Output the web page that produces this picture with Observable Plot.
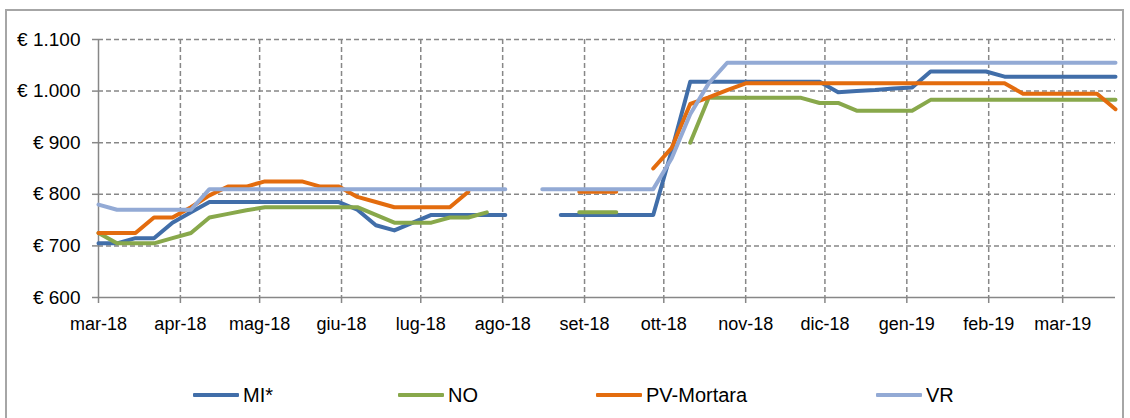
<!DOCTYPE html>
<html><head><meta charset="utf-8">
<script src="https://cdn.jsdelivr.net/npm/d3@7"></script>
<script src="https://cdn.jsdelivr.net/npm/@observablehq/plot@0.6"></script>
<style>
body{margin:0;background:#fff;font-family:"Liberation Sans",Arial,sans-serif;width:1130px;height:418px;overflow:hidden;position:relative;}
#frame{position:absolute;left:5px;top:9px;width:1119px;height:440px;border:2px solid #a6a6a6;box-sizing:border-box;}
#chart{position:absolute;left:0;top:0;}
#legend{position:absolute;top:382px;left:0;width:1130px;height:26px;font-size:20px;color:#000;}
.item{position:absolute;top:0;display:flex;align-items:center;height:26px;}
.sw{width:46px;height:4px;margin-right:4px;border-radius:1px;}
</style></head><body>
<div id="frame"></div>
<div id="chart"></div>
<div id="legend"></div>
<script>
// weekly observation dates
const dates = [
"2018-03-01","2018-03-08","2018-03-15","2018-03-22","2018-03-29",
"2018-04-05","2018-04-12","2018-04-19","2018-04-26",
"2018-05-03","2018-05-10","2018-05-17","2018-05-24","2018-05-31",
"2018-06-07","2018-06-14","2018-06-21","2018-06-28",
"2018-07-05","2018-07-12","2018-07-19","2018-07-26",
"2018-08-02","2018-08-09","2018-08-16","2018-08-23","2018-08-30",
"2018-09-06","2018-09-13","2018-09-20","2018-09-27",
"2018-10-04","2018-10-11","2018-10-18","2018-10-25",
"2018-11-01","2018-11-08","2018-11-15","2018-11-22","2018-11-29",
"2018-12-06","2018-12-13","2018-12-20","2018-12-27",
"2019-01-03","2019-01-10","2019-01-17","2019-01-24","2019-01-31",
"2019-02-07","2019-02-14","2019-02-21","2019-02-28",
"2019-03-07","2019-03-14","2019-03-21"];

const seriesNames = ["MI*","NO","PV-Mortara","VR"];
const seriesColors = ["#416EA9","#88A84B","#E36C0E","#93AAD5"];

const MI = [705,705,715,715,745,765,785,785,785,785,785,785,785,785,770,740,730,745,760,760,760,760,760,null,null,760,760,760,760,760,760,885,1018,1018,1018,1018,1018,1018,1018,1018,998,1000,1002,1005,1007,1038,1038,1038,1038,1028,1028,1028,1028,1028,1028,1028];
const NO = [725,705,705,705,715,725,755,762,769,775,775,775,775,775,775,760,745,745,745,755,755,765,null,null,null,null,765,765,765,null,null,null,900,987,987,987,987,987,987,977,977,962,962,962,962,983,983,983,983,983,983,983,983,983,983,983];
const PV = [725,725,725,755,755,775,798,815,815,825,825,825,815,815,795,785,775,775,775,775,805,null,null,null,null,null,805,805,805,null,850,890,975,988,1002,1015,1015,1015,1015,1015,1015,1015,1015,1015,1015,1015,1015,1015,1015,1015,995,995,995,995,995,965];
const VR = [780,770,770,770,770,770,810,810,810,810,810,810,810,810,810,810,810,810,810,810,810,810,810,null,810,810,810,810,810,810,810,870,955,1015,1055,1055,1055,1055,1055,1055,1055,1055,1055,1055,1055,1055,1055,1055,1055,1055,1055,1055,1055,1055,1055,1055];

const yTicks = [600,700,800,900,1000,1100];
const monthTicks = ["2018-03-01","2018-04-01","2018-05-01","2018-06-01","2018-07-01","2018-08-01","2018-09-01","2018-10-01","2018-11-01","2018-12-01","2019-01-01","2019-02-01","2019-03-01"];
const monthLabels = ["mar-18","apr-18","mag-18","giu-18","lug-18","ago-18","set-18","ott-18","nov-18","dic-18","gen-19","feb-19","mar-19"];

const values = [MI, NO, PV, VR];
const parse = d3.utcParse("%Y-%m-%d");
const tickDates = monthTicks.map(parse);
const labelMap = new Map(tickDates.map((d, i) => [+d, monthLabels[i]]));
const it = d3.formatLocale({decimal: ",", thousands: ".", grouping: [3], currency: ["€ ", ""]});
const fmt = it.format(",");

const gridStyle = {stroke: "#878787", strokeOpacity: 1, strokeWidth: 1.5, strokeDasharray: "5,3"};
const axisColor = "#878787";

const lineMarks = seriesNames.map((name, s) =>
  Plot.line(dates.map((d, i) => ({date: parse(d), value: values[s][i], series: name})), {
    x: "date", y: "value", stroke: seriesColors[s], strokeWidth: 4,
    strokeLinecap: "round", strokeLinejoin: "round"
  })
);

const chart = Plot.plot({
  width: 1130,
  height: 347,
  marginLeft: 98,
  marginRight: 15,
  marginTop: 39,
  marginBottom: 50,
  style: {fontFamily: "'Liberation Sans', Arial, sans-serif", fontSize: "18px", color: "#000", background: "transparent", overflow: "visible"},
  x: {type: "utc", domain: [parse(dates[0]), parse(dates[dates.length - 1])]},
  y: {domain: [600, 1100]},
  marks: [
    Plot.gridY(yTicks.slice(1), gridStyle),
    Plot.gridX(tickDates.slice(1), gridStyle),
    Plot.ruleY([600], {stroke: axisColor, strokeWidth: 1.5}),
    Plot.ruleX([tickDates[0]], {stroke: axisColor, strokeWidth: 1.5}),
    Plot.axisY(yTicks, {tickSize: 6, tickPadding: 12, stroke: axisColor, strokeWidth: 1.5, fill: "#000", fontSize: 19, label: null, tickFormat: d => "€ " + fmt(d)}),
    Plot.axisX(tickDates, {tickSize: 6, tickPadding: 14, stroke: axisColor, strokeWidth: 1.5, fill: "#000", fontSize: 18, label: null, tickFormat: d => labelMap.get(+d)}),
    ...lineMarks
  ]
});
document.getElementById("chart").appendChild(chart);

const legendPos = [193, 398, 596, 876];
const legend = document.getElementById("legend");
seriesNames.forEach((name, s) => {
  const item = document.createElement("div");
  item.className = "item";
  item.style.left = legendPos[s] + "px";
  const sw = document.createElement("div");
  sw.className = "sw";
  sw.style.background = seriesColors[s];
  const tx = document.createElement("span");
  tx.textContent = name;
  item.appendChild(sw);
  item.appendChild(tx);
  legend.appendChild(item);
});
</script>
</body></html>
